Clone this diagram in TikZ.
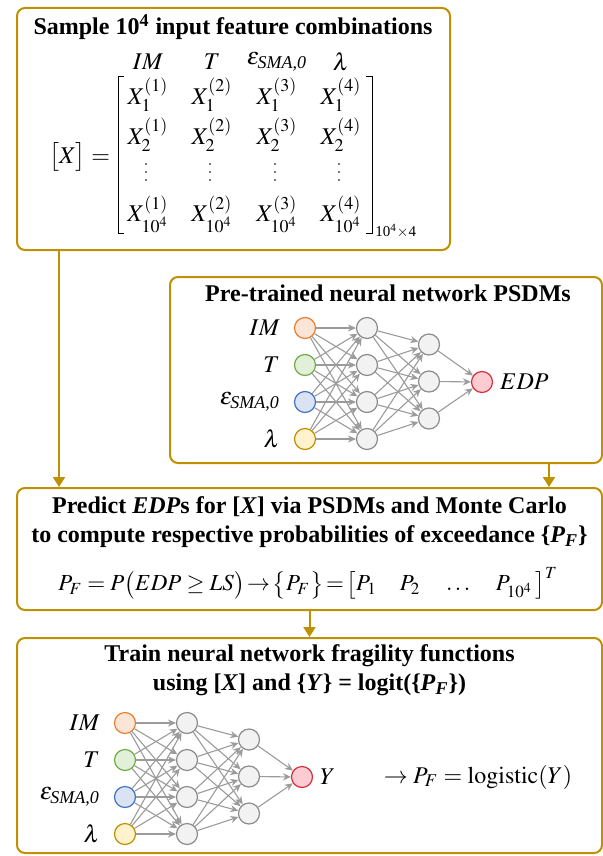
\documentclass[tikz,border=0pt]{standalone}
\usepackage{amsmath}
\usepackage{mathptmx}
\usepackage{fontspec}
\setmainfont{Liberation Serif}
\usetikzlibrary{arrows.meta,positioning}

\definecolor{boxgold}{RGB}{191,144,0}
\definecolor{linkgray}{RGB}{155,155,155}
\definecolor{orgD}{RGB}{237,125,49}   \definecolor{orgL}{RGB}{251,229,214}
\definecolor{grnD}{RGB}{112,173,71}   \definecolor{grnL}{RGB}{226,240,217}
\definecolor{bluD}{RGB}{68,114,196}   \definecolor{bluL}{RGB}{218,227,243}
\definecolor{gldD}{RGB}{191,144,0}    \definecolor{gldL}{RGB}{255,242,204}
\definecolor{gryD}{RGB}{140,140,140}  \definecolor{gryL}{RGB}{242,242,242}
\definecolor{redD}{RGB}{214,48,58}    \definecolor{redL}{RGB}{252,204,210}

\tikzset{
  panel/.style={draw=boxgold, line width=1pt, rounded corners=4pt, inner sep=0pt},
  flow/.style={draw=boxgold, line width=1pt, -{Triangle[length=5pt,width=6pt]}},
  neuron/.style={circle, line width=0.6pt, minimum size=10.5pt, inner sep=0pt},
  link/.style={draw=linkgray, line width=0.55pt, -{Stealth[length=4pt,width=3.6pt]}},
  ttl/.style={font=\bfseries\fontsize{12}{14.5}\selectfont, align=center}
}

\begin{document}
\begin{tikzpicture}[x=0.5pt, y=-0.5pt, font=\fontsize{12}{14.5}\selectfont]
  \useasboundingbox (0,0) rectangle (603,856);

  % Bốn khung chính
  \node[panel, minimum width=216.5pt, minimum height=121pt] (sample) at (233.5,129) {};
  \node[panel, minimum width=216pt, minimum height=93pt] (psdm) at (386,370) {};
  \node[panel, minimum width=292.5pt, minimum height=61pt] (predict) at (309.5,549) {};
  \node[panel, minimum width=292.5pt, minimum height=107.5pt] (train) at (309.5,745.5) {};

  % Mũi tên nối các khung
  \draw[flow] ([xshift=21.5pt]sample.south west) -- ([xshift=21.5pt]sample.south west |- predict.north);
  \draw[flow] ([xshift=-27pt]psdm.south east) -- ([xshift=-27pt]psdm.south east |- predict.north);
  \draw[flow] (predict.south) -- (train.north);

  % Tiêu đề
  \node[ttl] (ttlsample) at (233,27) {Sample 10\textsuperscript{4} input feature combinations};
  \node[ttl] (ttlpsdm) at (388,293) {Pre-trained neural network PSDMs};
  \node[ttl] (ttlpredict) at (309.5,522.5) {Predict \textit{EDP}s for [\textit{X}] via PSDMs and Monte Carlo\\
    to compute respective probabilities of exceedance \{\textit{P}\textsubscript{\textit{F}}\}};
  \node[ttl] (ttltrain) at (309.5,670.5) {Train neural network fragility functions\\
    using [\textit{X}] and \{\textit{Y}\} = logit(\{\textit{P}\textsubscript{\textit{F}}\})};

  % Ma trận [X]
  \node[anchor=east] (xlhs) at (117,157) {$\bigl[X\bigr]=$};
  \foreach \k/\xc/\hd in {1/148/IM, 2/212/T, 3/277/\varepsilon_{\textit{SMA,0}}, 4/341/\lambda}{
    \node (hd\k) at (\xc,62) {$\hd$};
    \node (xa\k) at (\xc,95) {$X_1^{(\k)}$};
    \node (xb\k) at (\xc,135) {$X_2^{(\k)}$};
    % ba chấm dọc
    \foreach \d in {0,1,2} \fill[black!70] (\xc-2,164+8*\d) circle (0.55pt);
    \node (xn\k) at (\xc,214) {$X_{10^4}^{(\k)}$};
  }
  \draw[line width=0.5pt] (124,77) -- (118,77) -- (118,233) -- (124,233);
  \draw[line width=0.5pt] (366,77) -- (372,77) -- (372,233) -- (366,233);
  \node[font=\fontsize{7.5}{9}\selectfont, anchor=west, inner sep=1pt] (msize) at (373,231) {10\textsuperscript{4}$\times$4};

  % Công thức P_F
  \node[font=\fontsize{11.5}{14}\selectfont] (pfeq) at (308,583) {$P_F = P\bigl(EDP \geq LS\bigr)\!\rightarrow\! \bigl\{P_F\bigr\}\!=\!
    \bigl[P_1 \quad P_2 \quad \ldots \quad P_{10^4}\,\bigr]^T$};

  % Hai mạng nơ-ron
  \foreach \nn/\ox/\oy/\res in {p/305/328/EDP, f/125/723/Y}{
    \foreach \i/\cl/\lab in {1/org/IM, 2/grn/T, 3/blu/\varepsilon_{\textit{SMA,0}}, 4/gld/\lambda}{
      \node[neuron, draw=\cl D, fill=\cl L] (\nn-in\i) at (\ox,\oy+37*\i-37) {};
      \node[left=3.5pt of \nn-in\i] (\nn-lab\i) {$\lab$};
      \node[neuron, draw=gryD, fill=gryL] (\nn-ha\i) at (\ox+62,\oy+37*\i-37) {};
    }
    \foreach \j in {1,2,3}
      \node[neuron, draw=gryD, fill=gryL] (\nn-hb\j) at (\ox+124,\oy+37*\j-20.5) {};
    \node[neuron, draw=redD, fill=redL] (\nn-out) at (\ox+177,\oy+54) {};
    \node[right=0pt of \nn-out] (\nn-res) {$\res$};
    \foreach \i in {1,...,4}{
      \foreach \j in {1,...,4} \draw[link] (\nn-in\i) -- (\nn-ha\j);
      \foreach \j in {1,2,3} \draw[link] (\nn-ha\i) -- (\nn-hb\j);
    }
    \foreach \j in {1,2,3} \draw[link] (\nn-hb\j) -- (\nn-out);
  }

  % Hàm logistic
  \node (logis) at (478,777) {$\rightarrow P_F = \mathrm{logistic}(Y)$};
\end{tikzpicture}
\end{document}
